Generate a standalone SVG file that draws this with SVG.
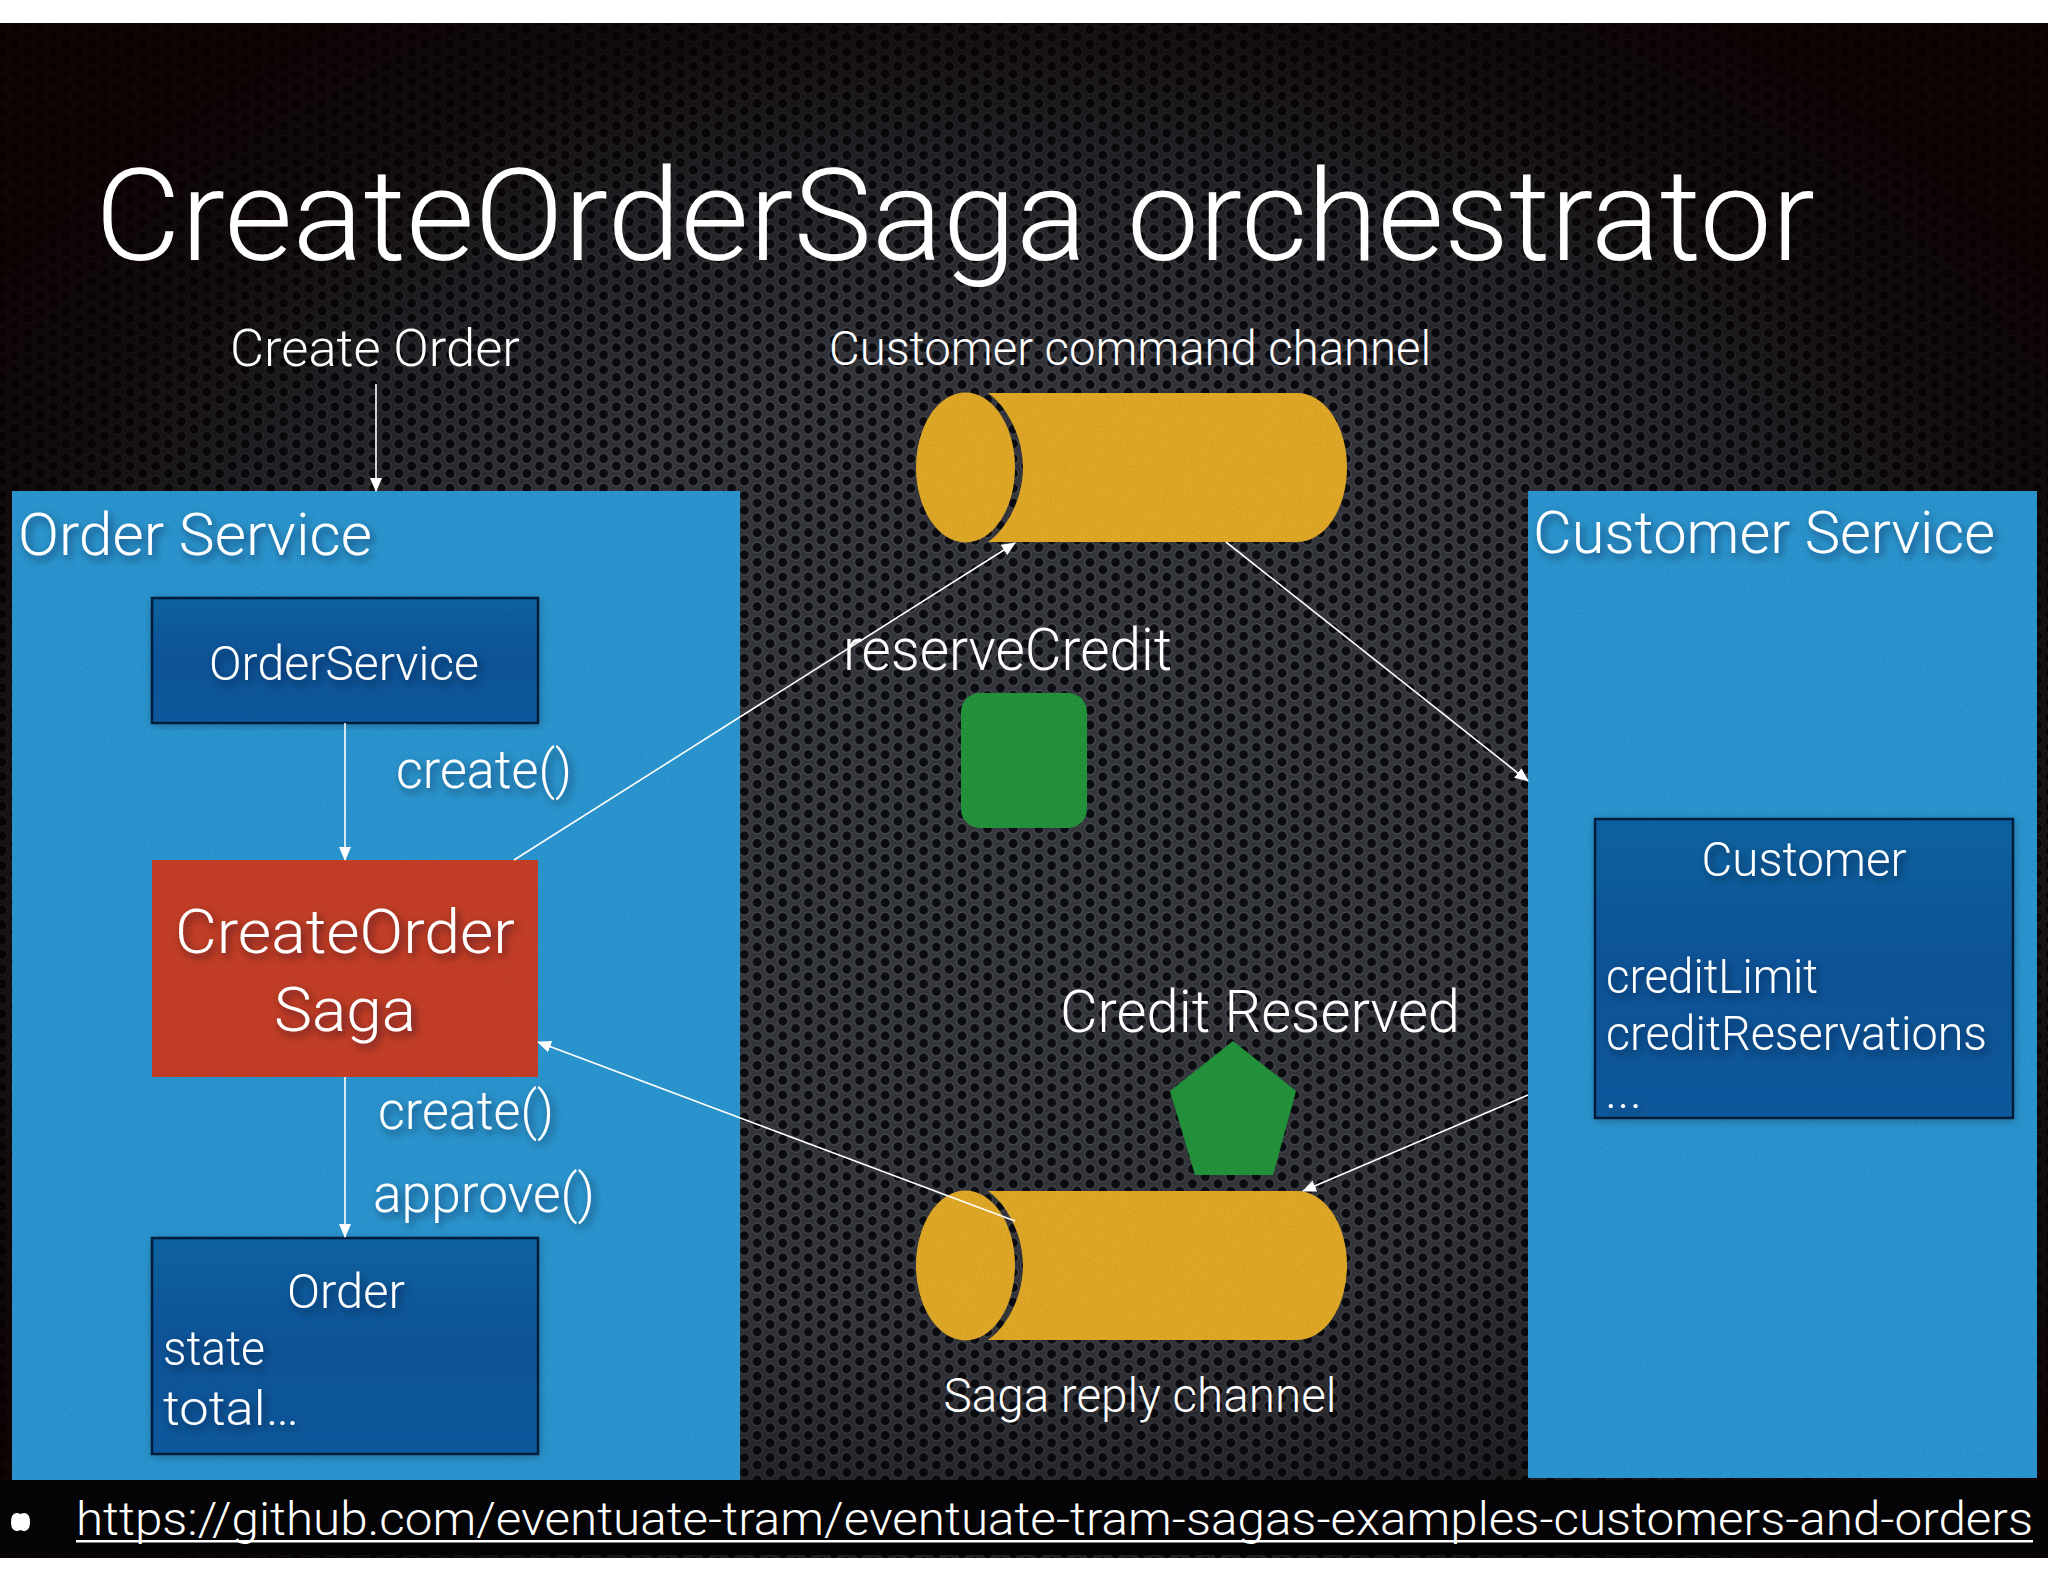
<svg xmlns="http://www.w3.org/2000/svg" width="2048" height="1582" viewBox="0 0 2048 1582">
<style>
text{font-family:Roboto,"Liberation Sans",sans-serif;font-weight:300;fill:#fff}
.c{text-anchor:middle}
.s{filter:url(#ts)}
.cn{stroke:#fff;stroke-width:1.6;fill:none;marker-end:url(#ah)}
.panel{fill:#2a94cf;filter:url(#grain)}
.inner{fill:url(#bg);stroke:#051b38;stroke-width:2.500;filter:url(#bs)}
.cyl{fill:#dfa727;filter:url(#grain)}
.gr{fill:#23923a;filter:url(#grain)}
</style>
<defs>
<pattern id="holes" width="25.600" height="14.800" patternUnits="userSpaceOnUse" patternTransform="translate(770 865.700)">
<rect width="25.600" height="14.800" fill="#34363c"/>
<g fill="#0b0c11" stroke="#4a4c54" stroke-width="1.300"><circle cx="0" cy="0" r="5.300"/><circle cx="25.600" cy="0" r="5.300"/><circle cx="0" cy="14.800" r="5.300"/><circle cx="25.600" cy="14.800" r="5.300"/><circle cx="12.800" cy="7.400" r="5.300"/></g>
</pattern>
<radialGradient id="vig" gradientUnits="userSpaceOnUse" cx="0" cy="0" r="1" gradientTransform="translate(1024 850) scale(1265 990)">
<stop offset="0" stop-color="#000" stop-opacity="0"/><stop offset=".5" stop-color="#000" stop-opacity=".08"/><stop offset=".7" stop-color="#050000" stop-opacity=".4"/><stop offset=".85" stop-color="#080000" stop-opacity=".78"/><stop offset="1" stop-color="#0a0000" stop-opacity=".92"/>
</radialGradient>
<linearGradient id="bg" x1="0" y1="0" x2="0" y2="1"><stop offset="0" stop-color="#07619f"/><stop offset=".5" stop-color="#0a5297"/><stop offset="1" stop-color="#0b589b"/></linearGradient>
<marker id="ah" markerWidth="14" markerHeight="12" refX="13" refY="6" orient="auto" markerUnits="userSpaceOnUse"><path d="M0 0L14 6L0 12z" fill="#fff"/></marker>
<filter id="ts" x="-10%" y="-25%" width="125%" height="160%"><feDropShadow dx="3" dy="4" stdDeviation="4" flood-color="#03121f" flood-opacity=".55"/></filter>
<filter id="bs" x="-5%" y="-5%" width="110%" height="110%"><feDropShadow dx="1" dy="2" stdDeviation="4" flood-color="#000" flood-opacity=".25"/></filter>
<filter id="grain" x="0" y="0" width="100%" height="100%"><feTurbulence type="fractalNoise" baseFrequency=".7" numOctaves="2" seed="4" result="n"/><feColorMatrix in="n" type="matrix" values="0 0 0 0 0 0 0 0 0 0 0 0 0 0 0 1.200 0 0 0 -.55" result="a"/><feComposite in="a" in2="SourceAlpha" operator="in" result="b"/><feComponentTransfer in="b" result="c"><feFuncA type="linear" slope=".35"/></feComponentTransfer><feMerge><feMergeNode in="SourceGraphic"/><feMergeNode in="c"/></feMerge></filter>
</defs>
<rect width="2048" height="1582" fill="#fff"/>
<g id="background">
<rect y="23" width="2048" height="1535" fill="url(#holes)"/>
<rect y="23" width="2048" height="1535" fill="url(#vig)"/>
<rect y="1480" width="2048" height="75" fill="#040305"/>
</g>
<text y="260" font-size="128"><tspan x="95" textLength="992" lengthAdjust="spacingAndGlyphs">CreateOrderSaga</tspan> <tspan x="1127" textLength="688" lengthAdjust="spacingAndGlyphs">orchestrator</tspan></text>
<g id="order-service"><rect class="panel" x="12" y="491" width="728" height="989"/>
<text class="s" x="18" y="555" font-size="60" textLength="354" lengthAdjust="spacingAndGlyphs">Order Service</text></g>
<g id="customer-service"><rect class="panel" x="1528" y="491" width="509" height="987"/>
<text class="s" x="1533" y="553" font-size="60" textLength="462" lengthAdjust="spacingAndGlyphs">Customer Service</text></g>
<g id="order-service-class"><rect class="inner" x="152" y="598" width="386" height="125"/>
<text class="c s" x="344" y="680" font-size="48" textLength="270" lengthAdjust="spacingAndGlyphs">OrderService</text></g>
<g id="saga"><rect x="152" y="860" width="386" height="217" fill="#c33d26" style="filter:url(#grain)"/>
<text class="c s" x="345" y="953" font-size="62" textLength="340" lengthAdjust="spacingAndGlyphs">CreateOrder</text>
<text class="c s" x="345" y="1031" font-size="62" textLength="142" lengthAdjust="spacingAndGlyphs">Saga</text></g>
<g id="order"><rect class="inner" x="152" y="1238" width="386" height="216"/>
<text class="c s" x="346" y="1308" font-size="48" textLength="118" lengthAdjust="spacingAndGlyphs">Order</text>
<text class="s" x="163" y="1365" font-size="48" textLength="102" lengthAdjust="spacingAndGlyphs">state</text>
<text class="s" x="163" y="1425" font-size="48" textLength="136" lengthAdjust="spacingAndGlyphs">total…</text></g>
<g id="customer"><rect class="inner" x="1595" y="819" width="418" height="299"/>
<text class="c s" x="1804" y="876" font-size="48" textLength="205" lengthAdjust="spacingAndGlyphs">Customer</text>
<text class="s" x="1606" y="993" font-size="48" textLength="212" lengthAdjust="spacingAndGlyphs">creditLimit</text>
<text class="s" x="1606" y="1050" font-size="48" textLength="381" lengthAdjust="spacingAndGlyphs">creditReservations</text>
<text class="s" x="1605" y="1108" font-size="48" textLength="37" lengthAdjust="spacingAndGlyphs">...</text></g>
<g id="command-channel">
<path class="cyl" d="M988 393H1297.500A49.500 74.500 0 0 1 1297.500 542H988C1008 528 1023 497 1023 467.500C1023 438 1008 407 988 393Z"/>
<ellipse class="cyl" cx="965.500" cy="467.500" rx="49.500" ry="75"/>
<text class="c" x="1130" y="365" font-size="48" textLength="602" lengthAdjust="spacingAndGlyphs">Customer command channel</text></g>
<g id="reply-channel">
<path class="cyl" d="M988 1191H1297.500A49.500 74.500 0 0 1 1297.500 1340H988C1008 1326 1023 1295 1023 1265.500C1023 1236 1008 1205 988 1191Z"/>
<ellipse class="cyl" cx="965.500" cy="1265.500" rx="49.500" ry="75"/>
<text class="c" x="1140" y="1412" font-size="48" textLength="393" lengthAdjust="spacingAndGlyphs">Saga reply channel</text></g>
<g id="command-message"><rect class="gr" x="961" y="693" width="126" height="135" rx="19"/>
<text x="843" y="670" font-size="60" textLength="329" lengthAdjust="spacingAndGlyphs">reserveCredit</text></g>
<g id="reply-message"><polygon class="gr" points="1233,1041 1296,1091 1273,1175 1195,1175 1170,1091"/>
<text x="1060" y="1032" font-size="60" textLength="400" lengthAdjust="spacingAndGlyphs">Credit Reserved</text></g>
<text x="230" y="366" font-size="52" textLength="290" lengthAdjust="spacingAndGlyphs">Create Order</text>
<text class="s" x="396" y="788" font-size="54" textLength="176" lengthAdjust="spacingAndGlyphs">create()</text>
<text class="s" x="378" y="1129" font-size="54" textLength="176" lengthAdjust="spacingAndGlyphs">create()</text>
<text class="s" x="373" y="1212" font-size="54" textLength="222" lengthAdjust="spacingAndGlyphs">approve()</text>
<g id="connectors">
<line class="cn" x1="376" y1="384" x2="376" y2="491"/>
<line class="cn" x1="345" y1="723" x2="345" y2="860"/>
<line class="cn" x1="345" y1="1077" x2="345" y2="1237"/>
<line class="cn" x1="514" y1="860" x2="1015" y2="543"/>
<line class="cn" x1="1226" y1="542" x2="1528" y2="781"/>
<line class="cn" x1="1528" y1="1095" x2="1303" y2="1191"/>
<line class="cn" x1="1015" y1="1221" x2="538" y2="1042"/>
</g>
<g id="footer">
<path d="M12 1516Q15 1511 20.500 1514Q26 1511 29 1516Q31 1522 29 1528Q26 1533 20.500 1530Q15 1533 12 1528Q10 1522 12 1516Z" fill="#fff"/>
<text x="76" y="1535" font-size="46" textLength="1957" lengthAdjust="spacingAndGlyphs">https://github.com/eventuate-tram/eventuate-tram-sagas-examples-customers-and-orders</text>
<rect x="76" y="1540" width="1957" height="2.500" fill="#fff"/>
</g>
</svg>
